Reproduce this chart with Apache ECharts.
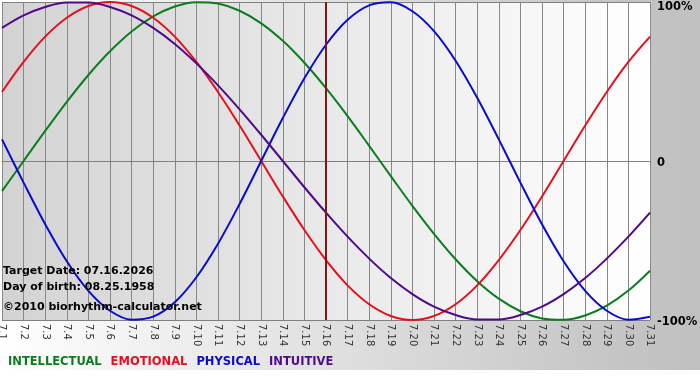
<!DOCTYPE html>
<html>
<head>
<meta charset="utf-8">
<script src="https://cdn.jsdelivr.net/npm/echarts@6/dist/echarts.min.js"></script>
<style>
  html, body { margin: 0; padding: 0; background: #fff; }
  #chart { width: 700px; height: 380px; }
</style>
</head>
<body>
<div id="chart"></div>
<script>
// days of the month shown on the x axis
var days = ['7.1','7.2','7.3','7.4','7.5','7.6','7.7','7.8','7.9','7.10','7.11','7.12','7.13','7.14','7.15','7.16',
            '7.17','7.18','7.19','7.20','7.21','7.22','7.23','7.24','7.25','7.26','7.27','7.28','7.29','7.30','7.31'];

// cycle values in percent, one per day
var intellectual = [-18.9, 0, 18.9, 37.2, 54.1, 69.0, 81.5, 91.0, 97.2, 99.9, 99.0, 94.5, 86.6, 75.6, 61.8, 45.8,
                    28.2, 9.5, -9.5, -28.2, -45.8, -61.8, -75.6, -86.6, -94.5, -99.0, -99.9, -97.2, -91.0, -81.5, -69.0];
var emotional = [43.4, 62.3, 78.2, 90.1, 97.5, 100, 97.5, 90.1, 78.2, 62.3, 43.4, 22.3, 0, -22.3, -43.4, -62.3,
                 -78.2, -90.1, -97.5, -100, -97.5, -90.1, -78.2, -62.3, -43.4, -22.3, 0, 22.3, 43.4, 62.3, 78.2];
var physical = [13.6, -13.6, -39.8, -63.1, -81.7, -94.2, -99.8, -97.9, -88.8, -73.1, -52.0, -27.0, 0, 27.0, 52.0, 73.1,
                88.8, 97.9, 99.8, 94.2, 81.7, 63.1, 39.8, 13.6, -13.6, -39.8, -63.1, -81.7, -94.2, -99.8, -97.9];
var intuitive = [83.7, 91.6, 96.9, 99.7, 99.7, 96.9, 91.6, 83.7, 73.6, 61.4, 47.6, 32.5, 16.5, 0, -16.5, -32.5,
                 -47.6, -61.4, -73.6, -83.7, -91.6, -96.9, -99.7, -99.7, -96.9, -91.6, -83.7, -73.6, -61.4, -47.6, -32.5];

var targetDay = '7.16';
var infoLines = ['Target Date: 07.16.2026', 'Day of birth: 08.25.1958', '\u00a92010 biorhythm-calculator.net'];

var names = ['INTELLECTUAL', 'EMOTIONAL', 'PHYSICAL', 'INTUITIVE'];
var colors = ['#0b7d1f', '#e5101e', '#0a0ad0', '#4f0a8c'];
var values = [intellectual, emotional, physical, intuitive];

var myChart = echarts.init(document.getElementById('chart'));

var series = [];
for (var i = 0; i < names.length; i++) {
    series.push({
        name: names[i],
        type: 'line',
        data: values[i],
        smooth: 0.35,
        symbol: 'none',
        lineStyle: { color: colors[i], width: 2 },
        itemStyle: { color: colors[i] },
        z: 3
    });
}
// marker for the target date
series[0].markLine = {
    silent: true,
    symbol: 'none',
    label: { show: false },
    lineStyle: { color: '#7e1818', width: 2, type: 'solid' },
    data: [{ xAxis: targetDay }]
};

var legendData = [];
for (var j = 0; j < names.length; j++) {
    legendData.push({ name: names[j], textStyle: { color: colors[j] } });
}

var graphics = [{
    type: 'rect',
    z: -10,
    shape: { x: 0, y: 0, width: 700, height: 370 },
    style: {
        fill: new echarts.graphic.LinearGradient(0, 0, 1, 0, [
            { offset: 0, color: '#ffffff' },
            { offset: 0.9, color: '#c4c4c4' },
            { offset: 1, color: '#c0c0c0' }
        ])
    }
}];
var infoY = [271, 287, 307];
for (var k = 0; k < infoLines.length; k++) {
    graphics.push({
        type: 'text',
        left: 3,
        top: infoY[k] - 5,
        z: 10,
        style: {
            text: infoLines[k],
            fill: '#000',
            font: 'bold 11px "DejaVu Sans"'
        }
    });
}

var labelFont = { fontWeight: 'bold', fontSize: 11.5, fontFamily: 'DejaVu Sans', color: '#000' };

var option = {
    backgroundColor: '#ffffff',
    animation: false,
    grid: {
        show: true,
        left: 2,
        right: 50,
        top: 2,
        bottom: 60,
        borderWidth: 0,
        outerBoundsMode: 'none',
        containLabel: false,
        backgroundColor: new echarts.graphic.LinearGradient(0, 0, 1, 0, [
            { offset: 0, color: '#d3d3d3' },
            { offset: 1, color: '#ffffff' }
        ])
    },
    legend: {
        left: 3,
        top: 355,
        padding: 0,
        icon: 'none',
        itemWidth: 0,
        itemGap: 4,
        selectedMode: false,
        textStyle: { fontFamily: 'DejaVu Sans', fontWeight: 'bold', fontSize: 11.5 },
        data: legendData
    },
    xAxis: {
        type: 'category',
        boundaryGap: false,
        data: days,
        axisLine: { lineStyle: { color: '#808080' } },
        axisTick: { show: true, length: 4, lineStyle: { color: '#808080' } },
        axisLabel: {
            rotate: -90,
            interval: 0,
            margin: 4,
            color: '#333',
            fontFamily: 'DejaVu Sans',
            fontSize: 10
        },
        splitLine: { show: true, lineStyle: { color: '#888888', width: 1 } }
    },
    yAxis: {
        type: 'value',
        position: 'right',
        min: -100,
        max: 100,
        interval: 100,
        axisLine: { show: false },
        axisTick: { show: false },
        axisLabel: {
            margin: 7,
            color: '#000',
            fontFamily: 'DejaVu Sans',
            fontWeight: 'bold',
            fontSize: 11.5,
            formatter: function (v) {
                if (v === 100) return '{top|100%}';
                return '{mid|' + (v === 0 ? '0' : v + '%') + '}';
            },
            rich: {
                top: Object.assign({ padding: [11, 0, 0, 0] }, labelFont),
                mid: Object.assign({ padding: [4, 0, 0, 0] }, labelFont)
            }
        },
        splitLine: { show: true, lineStyle: { color: '#808080', width: 1 } }
    },
    graphic: graphics,
    series: series
};

myChart.setOption(option, true);
</script>
</body>
</html>
